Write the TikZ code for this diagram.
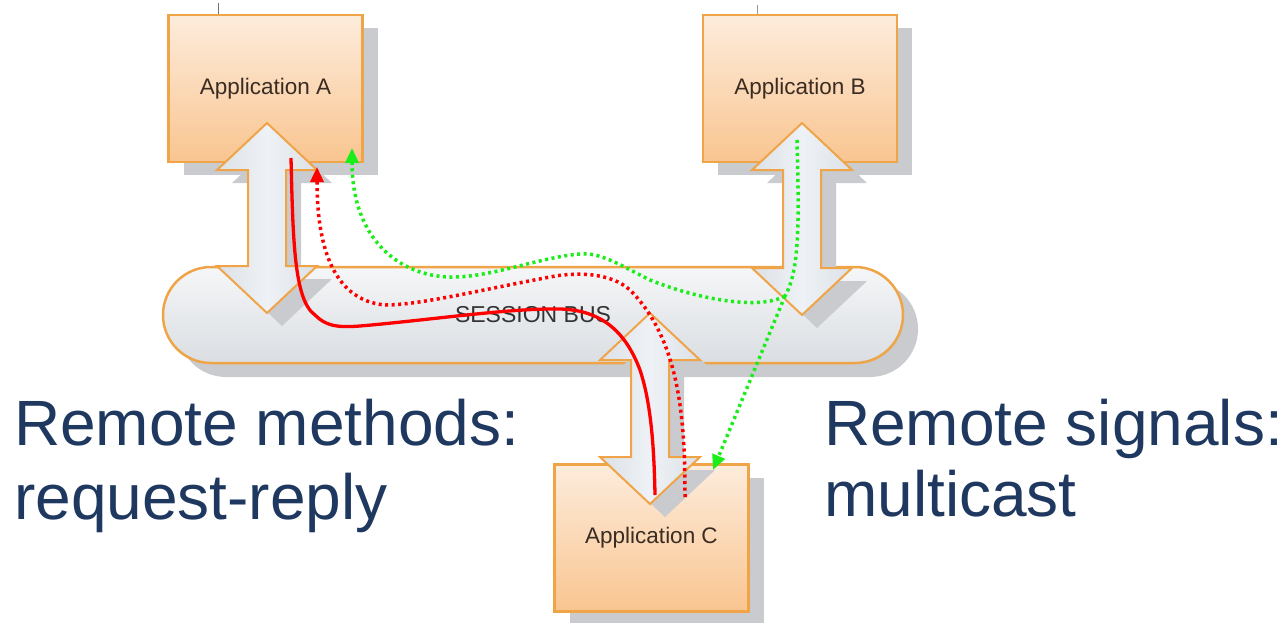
\documentclass[tikz,border=0pt]{standalone}
\usepackage{fontspec}
\setmainfont{Liberation Sans}
\usetikzlibrary{shadows,arrows.meta}
\definecolor{orangeB}{HTML}{F0A448}
\definecolor{boxTop}{HTML}{FDECDC}
\definecolor{boxBot}{HTML}{F9C590}
\definecolor{busTop}{HTML}{F5F6F8}
\definecolor{busBot}{HTML}{DADEE2}
\definecolor{arrFill}{HTML}{DCE1E7}
\definecolor{arrMid}{HTML}{EEF2F6}
\definecolor{shadowG}{HTML}{C9CBCE}
\definecolor{navy}{HTML}{1F3860}
\definecolor{redL}{HTML}{FF0000}
\definecolor{greenL}{HTML}{19EE19}
\definecolor{appText}{HTML}{3A2C22}
\newcommand{\dblarrowpath}[3]{(#1,#2) -- (#1+50,#2+47) -- (#1+19,#2+47) -- (#1+19,#3-47) -- (#1+50,#3-47) -- (#1,#3) -- (#1-50,#3-47) -- (#1-19,#3-47) -- (#1-19,#2+47) -- (#1-50,#2+47) -- cycle}
\tikzset{
  appbox/.style={draw=orangeB, line width=2.5pt, top color=boxTop, bottom color=boxBot,
    minimum width=194pt, minimum height=147pt, inner sep=0pt, text=appText,
    font=\fontsize{22.5}{26}\selectfont,
    drop shadow={shadow xshift=15pt, shadow yshift=-13pt, fill=shadowG, opacity=1}},
  busbox/.style={draw=orangeB, line width=2.5pt, top color=busTop, bottom color=busBot,
    minimum width=740pt, minimum height=96pt, rounded corners=48pt, inner sep=0pt,
    text=black!80, font=\fontsize{23}{27}\selectfont,
    drop shadow={shadow xshift=15pt, shadow yshift=-14pt, fill=shadowG, opacity=1}},
  blockarrow/.style={draw=orangeB, line width=2pt, left color=arrFill, right color=arrFill, middle color=arrMid, line join=miter},
  arrowshadow/.style={fill=shadowG},
  bigtext/.style={anchor=base west, inner sep=0pt, text=navy, font=\fontsize{64}{74}\selectfont},
  reqline/.style={draw=redL, line width=3.3pt},
  repline/.style={draw=redL, line width=3.5pt, dash pattern=on 3pt off 3.5pt, -{Triangle[length=15pt,width=13pt]}},
  sigline/.style={draw=greenL, line width=3.5pt, dash pattern=on 3pt off 3.5pt},
  sigarrow/.style={sigline, -{Triangle[length=15pt,width=13pt]}},
}
\begin{document}
\begin{tikzpicture}[x=1pt,y=-1pt]
\useasboundingbox (0,0) rectangle (1283,622);
\fill[white] (0,0) rectangle (1283,622);
% small marks at top
\draw[black!55, line width=1pt] (218,3) -- (218,14);
\draw[black!40, line width=1pt] (757,5) -- (757,14);
% boxes
\node[appbox] (A) at (265.5,88.5) {Application A};
\node[appbox] (B) at (800,88.5) {Application B};
\node[appbox] (C) at (651.5,538) {Application C};
% bus
\node[busbox] (bus) at (533,315) {SESSION BUS};
% block arrows: shadows
\fill[arrowshadow, shift={(15,13)}] \dblarrowpath{267}{123}{313};
\fill[arrowshadow, shift={(15,13)}] \dblarrowpath{802}{123}{315};
\fill[arrowshadow, shift={(15,13)}] \dblarrowpath{650}{313}{504};
% block arrows
\path[blockarrow] \dblarrowpath{267}{123}{313};
\path[blockarrow] \dblarrowpath{802}{123}{315};
\path[blockarrow] \dblarrowpath{650}{313}{504};
% connectors
\coordinate (reqS) at (291,158);
\coordinate (reqE) at (655,495);
\coordinate (repS) at (685,497);
\coordinate (repE) at (317,167);
\coordinate (sigS) at (797,140);
\coordinate (sigJ) at (785,296);
\coordinate (sigC) at (713,470);
\coordinate (sigA) at (352,148);
\draw[reqline] (reqS) .. controls (293,240) and (294,300) .. (315,315)
  .. controls (325,325) and (335,328) .. (360,326)
  .. controls (430,320) and (510,308) .. (560,309)
  .. controls (600,310) and (625,330) .. (640,370)
  .. controls (650,400) and (654,440) .. (reqE);
\draw[repline] (repS) .. controls (685,420) and (680,340) .. (630,290)
  .. controls (610,272) and (575,272) .. (550,277)
  .. controls (480,290) and (420,305) .. (385,305)
  .. controls (330,300) and (317,240) .. (repE);
\draw[sigline] (sigS) .. controls (799,220) and (800,270) .. (sigJ);
\draw[sigarrow] (sigJ) -- (sigC);
\draw[sigarrow] (sigJ) .. controls (760,310) and (700,300) .. (650,280)
  .. controls (620,265) and (600,252) .. (580,254)
  .. controls (540,257) and (490,278) .. (450,277)
  .. controls (400,276) and (352,240) .. (sigA);
% texts
\node[bigtext] (t1) at (14,445) {Remote methods:};
\node[bigtext] (t2) at (14,519) {request-reply};
\node[bigtext] (t3) at (824,445) {Remote signals:};
\node[bigtext] (t4) at (824,516) {multicast};
\end{tikzpicture}
\end{document}
